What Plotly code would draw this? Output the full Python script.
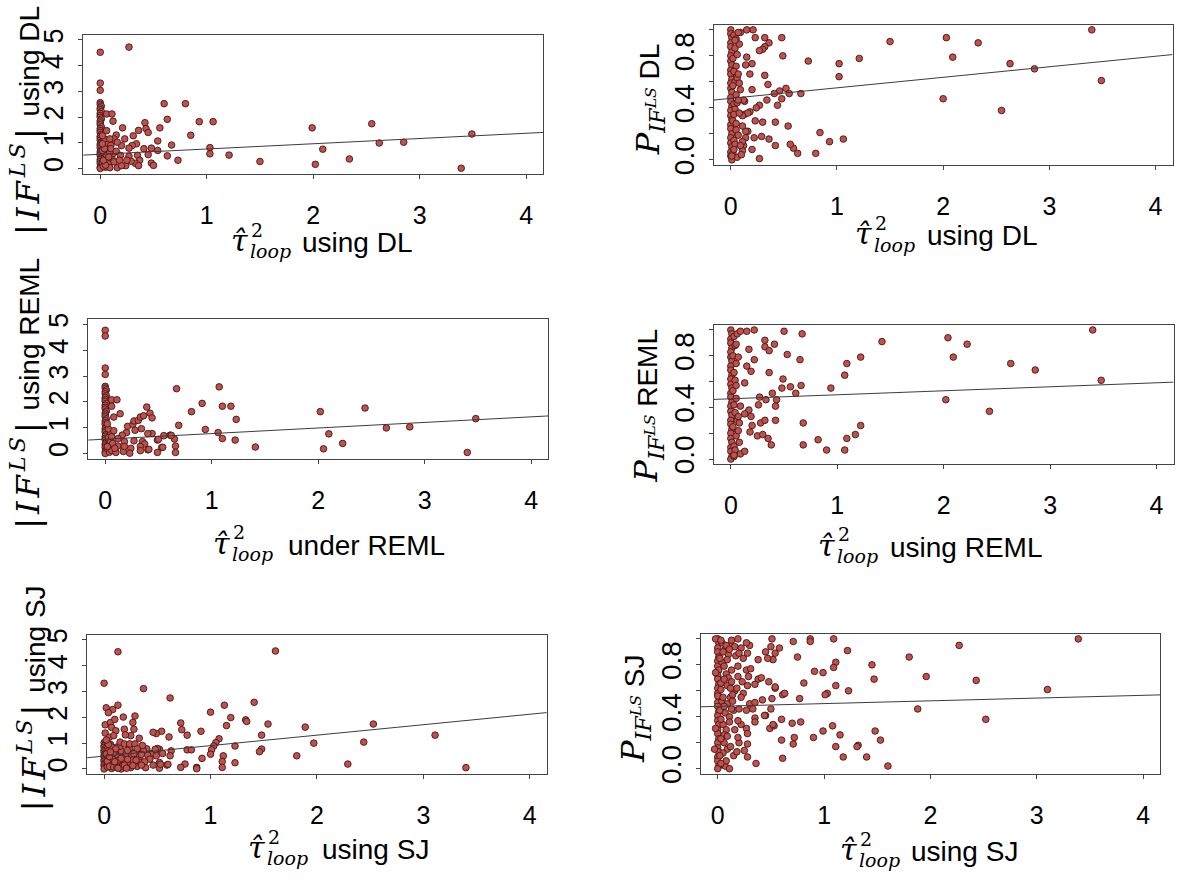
import plotly.graph_objects as go

W, H = 1183, 883

# (tau^2_loop, |IF^LS|) pairs, DL estimator
DL_IF = [
    (0.27, 4.72), (0.00, 4.52), (0.00, 3.32), (0.00, 3.04),
    (0.00, 2.56), (0.00, 2.49), (0.01, 2.42), (0.00, 2.35), (0.00, 2.28), (0.01, 2.21),
    (0.00, 2.14), (0.00, 2.06), (0.00, 1.99), (0.01, 1.92), (0.00, 1.85), (0.00, 1.77),
    (0.00, 1.70), (0.01, 1.62), (0.00, 1.55), (0.00, 1.47), (0.00, 1.40), (0.01, 1.33),
    (0.00, 1.25), (0.00, 1.18), (0.00, 1.10), (0.01, 1.03), (0.00, 0.95), (0.00, 0.88),
    (0.00, 0.80), (0.01, 0.72), (0.00, 0.65), (0.00, 0.57), (0.00, 0.50), (0.01, 0.42),
    (0.00, 0.35), (0.00, 0.27), (0.00, 0.19), (0.01, 0.12), (0.00, 0.05), (0.00, 0.00),
    (0.03, 0.60), (0.04, 0.40), (0.02, 0.22), (0.05, 0.85), (0.06, 0.30), (0.07, 0.65),
    (0.03, 1.05), (0.05, 0.05), (0.08, 0.18), (0.11, 0.40), (0.12, 0.58), (0.06, 1.00),
    (0.10, 0.90), (0.04, 1.15), (0.03, 0.08), (0.06, 0.50), (0.09, 0.62), (0.02, 0.70),
    (0.06, 2.12), (0.11, 2.12), (0.12, 1.84), (0.06, 1.47), (0.15, 1.30), (0.21, 1.58),
    (0.31, 1.27), (0.36, 1.48), (0.42, 1.78), (0.43, 1.55), (0.45, 1.40), (0.56, 1.58),
    (0.60, 2.52), (0.80, 2.52), (0.63, 1.91), (0.93, 1.82), (1.06, 1.82), (0.85, 1.29),
    (0.67, 0.91), (0.54, 1.07), (1.03, 0.81), (1.03, 0.57), (1.21, 0.52), (1.50, 0.27),
    (0.73, 0.32), (0.63, 0.49), (0.48, 0.79), (0.54, 0.70), (0.48, 0.21), (0.50, 0.12),
    (0.45, 0.54), (0.41, 0.77), (0.34, 0.96), (0.30, 0.89), (0.27, 0.79), (0.23, 1.15),
    (0.20, 0.89), (0.13, 1.15), (0.16, 1.02), (0.09, 1.15), (0.10, 0.77), (0.15, 0.67),
    (0.19, 0.51), (0.27, 0.48), (0.35, 0.51), (0.37, 0.32), (0.33, 0.20), (0.36, 0.11),
    (0.24, 0.11), (0.16, 0.03), (0.09, 0.03), (0.13, 0.26), (0.05, 0.13), (0.03, 0.32),
    (0.08, 0.45), (0.04, 0.77), (0.02, 0.96), (0.02, 1.27), (0.20, 0.11), (0.29, 0.28),
    (0.25, 0.32), (0.18, 0.32),
    (1.99, 1.58), (2.55, 1.74), (2.02, 0.16), (2.09, 0.75), (2.34, 0.37), (2.62, 0.99),
    (2.85, 1.02), (3.39, 0.01), (3.49, 1.34),
]

# (tau^2_loop, P) pairs, DL estimator
DL_P = [
    (0.00, 1.00), (0.00, 0.97), (0.01, 0.94), (0.00, 0.90), (0.00, 0.87), (0.01, 0.83),
    (0.00, 0.80), (0.00, 0.76), (0.01, 0.73), (0.00, 0.69), (0.00, 0.66), (0.01, 0.62),
    (0.00, 0.59), (0.00, 0.55), (0.01, 0.52), (0.00, 0.48), (0.00, 0.45), (0.01, 0.41),
    (0.00, 0.38), (0.00, 0.34), (0.01, 0.31), (0.00, 0.27), (0.00, 0.24), (0.01, 0.20),
    (0.00, 0.17), (0.00, 0.13), (0.01, 0.10), (0.00, 0.06), (0.00, 0.03), (0.01, 0.00),
    (0.03, 0.96), (0.04, 0.86), (0.02, 0.78), (0.05, 0.72), (0.03, 0.68), (0.04, 0.60),
    (0.02, 0.57), (0.05, 0.50), (0.03, 0.43), (0.04, 0.39), (0.02, 0.30), (0.05, 0.28),
    (0.03, 0.15), (0.04, 0.12), (0.02, 0.05), (0.06, 0.02), (0.05, 0.93), (0.06, 0.63),
    (0.03, 0.35), (0.06, 0.44),
    (3.40, 1.00), (3.49, 0.61), (2.86, 0.70), (2.63, 0.74), (2.55, 0.38), (2.33, 0.90),
    (2.03, 0.94), (2.09, 0.79), (2.00, 0.47), (1.50, 0.91), (1.21, 0.78), (1.02, 0.74),
    (1.02, 0.64), (0.73, 0.76), (1.06, 0.16), (0.93, 0.14), (0.84, 0.21), (0.80, 0.05),
    (0.63, 0.05), (0.59, 0.09), (0.56, 0.12), (0.54, 0.26), (0.48, 0.94), (0.49, 0.80),
    (0.66, 0.51), (0.55, 0.51), (0.52, 0.55), (0.46, 0.53), (0.48, 0.47), (0.44, 0.42),
    (0.42, 0.29), (0.42, 0.11), (0.41, 0.51), (0.35, 0.58), (0.34, 0.46), (0.32, 0.65),
    (0.36, 0.90), (0.32, 0.87), (0.30, 0.85), (0.27, 0.84), (0.32, 0.94), (0.23, 0.94),
    (0.09, 0.98), (0.15, 1.00), (0.21, 1.00), (0.36, 0.16), (0.29, 0.18), (0.30, 0.29),
    (0.27, 0.42), (0.23, 0.30), (0.22, 0.17), (0.20, 0.08), (0.27, 0.01), (0.20, 0.54),
    (0.20, 0.74), (0.15, 0.79), (0.18, 0.66), (0.14, 0.73), (0.13, 0.45), (0.13, 0.35),
    (0.18, 0.37), (0.16, 0.22), (0.12, 0.11), (0.11, 0.07),
    (0.07, 0.98), (0.06, 0.81), (0.08, 0.89), (0.04, 0.92), (0.07, 0.66), (0.08, 0.59),
    (0.09, 0.54), (0.12, 0.46), (0.07, 0.46), (0.24, 0.40), (0.16, 0.36), (0.11, 0.34),
    (0.08, 0.36), (0.05, 0.23), (0.07, 0.19), (0.14, 0.17), (0.11, 0.14), (0.09, 0.11),
    (0.10, 0.04), (0.01, 0.03), (0.03, 0.08), (0.14, 0.22), (0.11, 0.26),
]

# (tau^2_loop, |IF^LS|) pairs, REML estimator
REML_IF = [
    (0.00, 4.77), (0.00, 4.55), (0.00, 3.31), (0.00, 3.06),
    (0.00, 2.60), (0.00, 2.53), (0.01, 2.46), (0.00, 2.39), (0.00, 2.31), (0.01, 2.24),
    (0.00, 2.17), (0.00, 2.09), (0.00, 2.02), (0.01, 1.94), (0.00, 1.87), (0.00, 1.79),
    (0.00, 1.72), (0.01, 1.64), (0.00, 1.57), (0.00, 1.49), (0.00, 1.42), (0.01, 1.34),
    (0.00, 1.27), (0.00, 1.19), (0.00, 1.12), (0.01, 1.04), (0.00, 0.97), (0.00, 0.89),
    (0.00, 0.82), (0.01, 0.74), (0.00, 0.67), (0.00, 0.59), (0.00, 0.52), (0.01, 0.44),
    (0.00, 0.37), (0.00, 0.29), (0.00, 0.22), (0.01, 0.14), (0.00, 0.07), (0.00, 0.00),
    (0.03, 0.55), (0.04, 0.35), (0.02, 0.18), (0.05, 0.80), (0.05, 0.25), (0.03, 0.95),
    (0.04, 0.05), (0.06, 0.12), (0.03, 0.62), (0.05, 0.45),
    (0.67, 2.51), (1.07, 2.58), (0.91, 1.94), (0.81, 1.62), (1.10, 1.83), (1.18, 1.83),
    (1.23, 1.32), (0.39, 1.80), (0.69, 1.09), (0.94, 0.93), (1.06, 0.81), (1.10, 0.58),
    (1.22, 0.52), (1.41, 0.25), (2.02, 1.62), (2.44, 1.76), (2.10, 0.76), (2.05, 0.18),
    (2.23, 0.39), (2.64, 0.99), (2.86, 1.03), (3.40, 0.04), (3.48, 1.35), (0.65, 0.56),
    (0.66, 0.29), (0.66, 0.04), (0.61, 0.71), (0.55, 0.69), (0.53, 0.23), (0.49, 0.04),
    (0.49, 0.52), (0.44, 0.77), (0.40, 0.14),
    (0.06, 2.08), (0.11, 2.08), (0.06, 1.83), (0.08, 1.41), (0.14, 1.54), (0.02, 1.15),
    (0.21, 1.05), (0.26, 1.13), (0.27, 1.26), (0.31, 1.28), (0.33, 1.41), (0.36, 1.46),
    (0.42, 1.56), (0.44, 1.38), (0.34, 0.96), (0.28, 0.90), (0.20, 0.81), (0.08, 0.88),
    (0.16, 0.71), (0.12, 0.58), (0.06, 0.65), (0.07, 0.39), (0.02, 0.27), (0.12, 0.29),
    (0.18, 0.46), (0.27, 0.49), (0.35, 0.46), (0.37, 0.37), (0.40, 0.77), (0.50, 0.55),
    (0.62, 0.70), (0.54, 0.24), (0.41, 0.16), (0.33, 0.27), (0.33, 0.11), (0.24, 0.20),
    (0.23, 0.01), (0.17, 0.08), (0.10, 0.04), (0.18, 0.27), (0.09, 0.20),
]

# (tau^2_loop, P) pairs, REML estimator
REML_P = [
    (0.00, 1.00), (0.01, 0.97), (0.00, 0.93), (0.00, 0.90), (0.01, 0.86), (0.00, 0.83),
    (0.00, 0.79), (0.01, 0.76), (0.00, 0.72), (0.00, 0.69), (0.01, 0.65), (0.00, 0.62),
    (0.00, 0.58), (0.01, 0.55), (0.00, 0.51), (0.00, 0.48), (0.01, 0.44), (0.00, 0.41),
    (0.00, 0.37), (0.01, 0.34), (0.00, 0.30), (0.00, 0.27), (0.01, 0.23), (0.00, 0.20),
    (0.00, 0.16), (0.01, 0.13), (0.00, 0.09), (0.00, 0.06), (0.01, 0.02), (0.00, 0.00),
    (0.03, 0.95), (0.04, 0.88), (0.02, 0.80), (0.05, 0.74), (0.03, 0.67), (0.04, 0.61),
    (0.02, 0.53), (0.05, 0.47), (0.03, 0.42), (0.04, 0.36), (0.02, 0.25), (0.05, 0.18),
    (0.03, 0.10), (0.04, 0.07), (0.06, 0.97), (0.05, 0.57), (0.06, 0.30), (0.03, 0.02),
    (3.40, 1.00), (3.48, 0.61), (2.86, 0.69), (2.63, 0.74), (2.43, 0.37), (2.22, 0.89),
    (2.04, 0.94), (2.09, 0.79), (2.02, 0.46), (1.42, 0.91), (1.22, 0.79), (1.09, 0.74),
    (1.07, 0.65), (0.94, 0.55), (1.22, 0.26), (1.17, 0.19), (1.09, 0.16), (1.07, 0.07),
    (0.90, 0.07), (0.82, 0.15), (0.68, 0.11), (0.68, 0.28), (0.67, 0.97), (0.65, 0.77),
    (0.66, 0.57), (0.61, 0.51), (0.56, 0.56), (0.53, 0.81), (0.50, 0.99), (0.49, 0.62),
    (0.48, 0.55),
    (0.09, 0.99), (0.15, 0.99), (0.22, 1.00), (0.32, 0.92), (0.32, 0.87), (0.36, 0.84),
    (0.41, 0.89), (0.17, 0.85), (0.22, 0.77), (0.07, 0.79), (0.05, 0.89), (0.15, 0.72),
    (0.19, 0.68), (0.13, 0.59), (0.36, 0.67), (0.39, 0.51), (0.27, 0.48), (0.33, 0.46),
    (0.43, 0.46), (0.42, 0.41), (0.26, 0.42), (0.17, 0.38), (0.13, 0.35), (0.19, 0.33),
    (0.09, 0.41), (0.07, 0.33), (0.08, 0.28), (0.20, 0.26), (0.28, 0.28), (0.32, 0.30),
    (0.42, 0.30), (0.18, 0.21), (0.25, 0.18), (0.30, 0.19), (0.35, 0.16), (0.38, 0.11),
    (0.07, 0.22), (0.08, 0.13), (0.09, 0.04), (0.13, 0.06), (0.03, 0.03),
]

# (tau^2_loop, |IF^LS|) pairs, SJ estimator
SJ_IF = [
    (0.00, 1.02), (0.01, 0.96), (0.00, 0.90), (0.00, 0.84), (0.01, 0.78), (0.00, 0.72),
    (0.00, 0.66), (0.01, 0.60), (0.00, 0.54), (0.00, 0.48), (0.01, 0.42), (0.00, 0.36),
    (0.00, 0.30), (0.01, 0.24), (0.00, 0.18), (0.00, 0.12), (0.01, 0.06), (0.00, 0.00),
    (0.03, 0.88), (0.04, 0.70), (0.03, 0.52), (0.05, 0.40), (0.04, 0.22), (0.03, 0.08),
    (0.06, 0.95), (0.07, 0.55), (0.06, 0.32), (0.08, 0.15), (0.07, 0.02), (0.09, 0.45),
    (0.10, 0.62), (0.11, 0.10), (0.12, 0.85), (0.14, 0.55), (0.15, 0.25), (0.17, 0.65),
    (0.16, 0.00), (0.24, 0.45), (0.26, 0.25), (0.32, 0.42), (0.40, 0.78), (0.44, 0.60),
    (0.03, 0.30), (0.05, 0.10), (0.08, 0.40), (0.09, 0.08), (0.12, 0.20), (0.13, 0.50),
    (0.14, 0.35), (0.16, 0.70), (0.17, 0.10), (0.18, 0.45), (0.20, 0.25), (0.21, 0.60),
    (0.23, 0.18), (0.24, 0.80), (0.25, 0.05), (0.26, 0.50), (0.27, 0.35), (0.30, 0.65),
    (0.31, 0.10), (0.33, 0.45), (0.34, 0.25), (0.37, 0.70), (0.39, 0.05), (0.02, 0.58),
    (0.05, 0.48), (0.07, 0.85), (0.09, 0.62), (0.12, 0.05), (0.15, 0.88), (0.04, 0.95),
    (0.13, 4.54), (1.61, 4.57), (0.00, 3.32), (0.37, 3.11), (0.62, 2.75), (1.41, 2.58),
    (1.13, 2.47), (1.00, 2.20), (1.19, 1.99), (1.33, 1.90), (1.34, 1.84), (1.54, 1.74),
    (1.15, 1.68), (1.89, 1.62), (2.53, 1.74), (3.11, 1.31), (2.44, 1.04), (1.97, 1.00),
    (1.81, 0.51), (2.29, 0.19), (3.40, 0.05), (1.48, 1.31), (1.48, 0.77), (1.46, 0.67),
    (1.23, 0.89), (1.23, 0.24), (1.12, 0.51), (1.11, 0.29), (1.11, 0.06), (1.08, 1.17),
    (1.05, 1.02), (1.03, 0.89), (1.01, 0.74), (1.00, 0.57), (0.92, 0.41), (0.91, 1.46),
    (0.87, 0.06), (0.87, 0.01), (0.72, 1.78), (0.73, 1.52), (0.78, 1.31), (0.78, 0.74),
    (0.82, 0.74), (0.76, 0.19), (0.72, 0.06), (0.61, 1.24), (0.63, 0.70), (0.62, 0.51),
    (0.59, 0.15), (0.54, 1.46), (0.49, 1.37), (0.46, 1.42), (0.52, 0.76), (0.50, 0.79),
    (0.52, 0.25), (0.52, 0.03), (0.55, 0.60), (0.46, 0.15), (0.48, 0.76),
    (0.02, 2.37), (0.08, 2.30), (0.13, 2.47), (0.04, 2.18), (0.18, 2.01), (0.29, 2.05),
    (0.01, 1.71), (0.06, 1.80), (0.07, 1.61), (0.01, 1.39), (0.05, 1.23), (0.02, 1.12),
    (0.10, 1.92), (0.27, 1.80), (0.11, 1.48), (0.09, 1.29), (0.19, 1.54), (0.28, 1.54),
    (0.25, 1.29), (0.20, 1.32), (0.15, 1.04), (0.19, 0.97), (0.24, 0.97), (0.29, 0.97),
    (0.33, 1.19), (0.36, 0.91), (0.31, 0.78), (0.11, 0.78), (0.06, 0.66), (0.22, 0.72),
    (0.28, 0.59), (0.35, 0.56), (0.41, 0.53), (0.43, 0.38), (0.38, 0.28), (0.30, 0.34),
    (0.22, 0.37), (0.16, 0.41), (0.10, 0.28), (0.19, 0.15), (0.27, 0.13), (0.35, 0.15),
    (0.13, 0.03), (0.21, 0.03), (0.49, 0.51), (0.53, 0.18), (0.60, 0.18),
]

# (tau^2_loop, P) pairs, SJ estimator
SJ_P = [
    (0.00, 1.00), (0.01, 0.97), (0.00, 0.93), (0.00, 0.90), (0.01, 0.86), (0.00, 0.83),
    (0.00, 0.79), (0.01, 0.76), (0.00, 0.72), (0.00, 0.69), (0.01, 0.65), (0.00, 0.62),
    (0.00, 0.58), (0.01, 0.55), (0.00, 0.51), (0.00, 0.48), (0.01, 0.44), (0.00, 0.41),
    (0.00, 0.37), (0.01, 0.34), (0.00, 0.30), (0.00, 0.27), (0.01, 0.23), (0.00, 0.20),
    (0.00, 0.16), (0.01, 0.13), (0.00, 0.09), (0.00, 0.06), (0.01, 0.02), (0.00, 0.00),
    (0.04, 0.97), (0.07, 0.92), (0.10, 0.88), (0.04, 0.82), (0.08, 0.73), (0.03, 0.66),
    (0.09, 0.64), (0.04, 0.52), (0.09, 0.50), (0.07, 0.43), (0.05, 0.34), (0.08, 0.30),
    (0.06, 0.20), (0.09, 0.15), (0.05, 0.12), (0.07, 0.02), (0.15, 0.45), (0.16, 0.30),
    (0.22, 0.34), (0.24, 0.58), (0.10, 0.70), (0.12, 0.55), (0.02, 0.45), (0.06, 0.26),
    (0.15, 0.10), (0.20, 0.20), (0.24, 0.85), (0.30, 0.95), (0.12, 0.95), (0.16, 0.60),
    (-0.02, 1.00), (0.03, 0.99), (0.13, 0.99), (0.19, 1.00), (0.27, 0.97), (0.08, 0.95),
    (0.16, 0.94), (0.22, 0.93), (0.28, 0.89), (0.11, 0.92), (0.05, 0.90), (0.02, 0.85),
    (0.09, 0.84), (0.17, 0.87), (0.20, 0.89), (0.38, 0.84), (0.45, 0.90), (0.50, 0.94),
    (0.54, 0.89), (0.52, 0.84), (0.06, 0.79), (0.13, 0.76), (0.19, 0.79), (-0.02, 0.74),
    (0.06, 0.69), (0.13, 0.67), (0.27, 0.76), (0.31, 0.77), (0.29, 0.71), (0.38, 0.69),
    (0.48, 0.67), (0.19, 0.71), (0.23, 0.67), (0.28, 0.64), (0.35, 0.65), (0.18, 0.62),
    (0.12, 0.62), (0.03, 0.61), (0.00, 0.56), (0.05, 0.55), (0.14, 0.57), (0.22, 0.55),
    (0.30, 0.50), (0.35, 0.51), (0.42, 0.53), (0.51, 0.54), (0.54, 0.62), (0.61, 0.57),
    (0.14, 0.52), (0.06, 0.48), (0.13, 0.46), (0.20, 0.46), (0.27, 0.45), (0.33, 0.46),
    (0.50, 0.46), (0.11, 0.40), (0.03, 0.38), (0.11, 0.36), (0.19, 0.37), (0.35, 0.39),
    (0.45, 0.41), (0.35, 0.36), (0.49, 0.31), (0.53, 0.33), (0.60, 0.38), (0.27, 0.31),
    (0.28, 0.27), (0.19, 0.24), (0.09, 0.25), (0.03, 0.23), (0.12, 0.17), (0.28, 0.19),
    (0.18, 0.13), (0.25, 0.14), (0.28, 0.09), (0.36, 0.04), (0.08, 0.06), (0.11, 0.00),
    (0.03, 0.04), (0.02, 0.10), (-0.02, 0.31), (-0.03, 0.15),
    (3.39, 1.00), (3.10, 0.61), (2.27, 0.95), (2.43, 0.68), (2.52, 0.38), (1.80, 0.86),
    (1.96, 0.71), (1.88, 0.46), (1.45, 0.80), (1.47, 0.69), (1.48, 0.29), (1.53, 0.22),
    (1.60, 0.02), (1.40, 0.09), (1.32, 0.18), (1.31, 0.17), (1.22, 0.91), (1.23, 0.60),
    (1.09, 1.00), (1.11, 0.82), (1.09, 0.78), (1.11, 0.64), (1.08, 0.33), (1.15, 0.26),
    (1.11, 0.17), (1.18, 0.09), (1.03, 0.58), (1.01, 0.57), (0.99, 0.74), (0.99, 0.29),
    (0.91, 0.75), (0.90, 0.24), (0.87, 1.00), (0.87, 0.98), (0.81, 0.66), (0.77, 0.54),
    (0.78, 0.36), (0.75, 0.86), (0.71, 0.98), (0.72, 0.24), (0.71, 0.19), (0.70, 0.35),
    (0.63, 0.58), (0.60, 0.22), (0.61, 0.08), (0.51, 1.00), (0.58, 0.93), (0.47, 0.85),
    (0.54, 0.63), (0.52, 0.34), (0.41, 0.70), (0.44, 0.41),
]

# fitted regression lines: (intercept, slope)
DL_IF_FIT = (0.553, 0.204)
DL_P_FIT = (0.473, 0.081)
REML_IF_FIT = (0.555, 0.216)
REML_P_FIT = (0.467, 0.031)
SJ_IF_FIT = (0.499, 0.405)
SJ_P_FIT = (0.480, 0.0213)

X_TICKS = [0, 1, 2, 3, 4]
IF_TICKS = [0, 1, 2, 3, 4, 5]
P_TICKS = [0.0, 0.2, 0.4, 0.6, 0.8, 1.0]
P_TICK_TEXT = ["0.0", "", "0.4", "", "0.8", ""]
X_RANGE = [-0.16, 4.16]

SERIF = "DejaVu Serif"
SANS = "Liberation Sans, Arial, sans-serif"
FILL = "#c4504b"
EDGE = "#3a1a1a"
FRAME = "#444444"

# panel boxes in pixels: (left, top, right, bottom)
PANELS = [
    dict(pts=DL_IF, fit=DL_IF_FIT, kind="if", est="DL", box=(83.2, 29.3, 543.2, 170.7),
         xlab="using DL", xt=(229, 300, 240), yt=(25, 117)),
    dict(pts=DL_P, fit=DL_P_FIT, kind="p", est="DL", box=(713.8, 19.0, 1172.5, 162.0),
         xlab="using DL", xt=(853, 925, 233), yt=(650, 95)),
    dict(pts=REML_IF, fit=REML_IF_FIT, kind="if", est="REML", box=(88.2, 319.0, 548.2, 461.0),
         xlab="under REML", xt=(211, 286, 548), yt=(25, 395)),
    dict(pts=REML_P, fit=REML_P_FIT, kind="p", est="REML", box=(713.8, 324.7, 1173.6, 466.7),
         xlab="using REML", xt=(816, 888, 550), yt=(648, 407)),
    dict(pts=SJ_IF, fit=SJ_IF_FIT, kind="if", est="SJ", box=(87.1, 640.3, 546.8, 782.3),
         xlab="using SJ", xt=(246, 320, 858), yt=(32, 705)),
    dict(pts=SJ_P, fit=SJ_P_FIT, kind="p", est="SJ", box=(700.7, 639.3, 1160.2, 782.0),
         xlab="using SJ", xt=(838, 909, 860), yt=(635, 716)),
]


def px(x):
    return x / W


def py(y):
    return 1 - y / H


fig = go.Figure()
layout = dict(
    width=W, height=H, margin=dict(l=0, r=0, t=0, b=0),
    paper_bgcolor="white", plot_bgcolor="white", showlegend=False,
    annotations=[],
)

for i, p in enumerate(PANELS, start=1):
    xa = "x" if i == 1 else f"x{i}"
    ya = "y" if i == 1 else f"y{i}"
    xs = [v[0] for v in p["pts"]]
    ys = [v[1] for v in p["pts"]]
    fig.add_trace(go.Scatter(
        x=xs, y=ys, mode="markers", xaxis=xa, yaxis=ya, hoverinfo="skip",
        marker=dict(size=6.6, color=FILL, line=dict(color=EDGE, width=0.9)),
    ))
    a, b = p["fit"]
    fig.add_trace(go.Scatter(
        x=X_RANGE, y=[a + b * X_RANGE[0], a + b * X_RANGE[1]], mode="lines",
        xaxis=xa, yaxis=ya, hoverinfo="skip",
        line=dict(color="#3c3c3c", width=1),
    ))

    l, t, r, btm = p["box"]
    common = dict(showgrid=False, zeroline=False, showline=True, mirror=True,
                  linecolor=FRAME, linewidth=1, ticks="outside", ticklen=4,
                  tickcolor=FRAME, tickwidth=1, color="black")
    layout["xaxis" if i == 1 else f"xaxis{i}"] = dict(
        domain=[px(l), px(r)], range=X_RANGE, anchor=ya, tickmode="array",
        tickvals=X_TICKS, ticktext=[str(v) for v in X_TICKS],
        tickfont=dict(family=SANS, size=25, color="black"), ticklabelstandoff=15,
        **common)
    if p["kind"] == "if":
        ycfg = dict(range=[-0.2, 5.2], tickvals=IF_TICKS,
                    ticktext=[str(v) for v in IF_TICKS],
                    tickfont=dict(family=SANS, size=27, color="black"))
    else:
        ycfg = dict(range=[-0.04, 1.04], tickvals=P_TICKS, ticktext=P_TICK_TEXT,
                    tickfont=dict(family=SANS, size=28, color="black"))
    layout["yaxis" if i == 1 else f"yaxis{i}"] = dict(
        domain=[py(btm), py(t)], anchor=xa, tickmode="array", tickangle=-90,
        ticklabelstandoff=4, **ycfg, **common)

    # x-axis title: tau-hat with stacked superscript 2 and subscript loop
    xtau, xlab, yc = p["xt"]
    anns = layout["annotations"]
    anns.append(dict(xref="paper", yref="paper", x=px(xtau), y=py(yc - 1), xanchor="left",
                     yanchor="middle", showarrow=False, text="<i>τ̂</i>",
                     font=dict(family=SERIF, size=30, color="black")))
    anns.append(dict(xref="paper", yref="paper", x=px(xtau + 20), y=py(yc - 12), xanchor="left",
                     yanchor="middle", showarrow=False, text="2",
                     font=dict(family=SERIF, size=19, color="black")))
    anns.append(dict(xref="paper", yref="paper", x=px(xtau + 19), y=py(yc + 10), xanchor="left",
                     yanchor="middle", showarrow=False, text="<i>loop</i>",
                     font=dict(family=SERIF, size=19, color="black")))
    anns.append(dict(xref="paper", yref="paper", x=px(xlab), y=py(yc + 1), xanchor="left",
                     yanchor="middle", showarrow=False, text=p["xlab"],
                     font=dict(family=SANS, size=28, color="black")))

    # y-axis title (rotated)
    if p["kind"] == "if":
        ytxt = (f'<span style="font-family:{SERIF};font-size:32px;letter-spacing:4px">'
                f'<i>|IF</i><sup><i>LS</i></sup>|</span> using {p["est"]}')
    else:
        ytxt = (f'<span style="font-family:{SERIF};font-size:32px"><i>P</i>'
                f'<sub><i>IF</i><sup><i>LS</i></sup></sub></span> {p["est"]}')
    ytx, yty = p["yt"]
    anns.append(dict(xref="paper", yref="paper", x=px(ytx), y=py(yty), xanchor="center",
                     yanchor="middle", showarrow=False, textangle=-90, text=ytxt,
                     font=dict(family=SANS, size=28, color="black")))

fig.update_layout(**layout)
fig.write_html("out.html")
